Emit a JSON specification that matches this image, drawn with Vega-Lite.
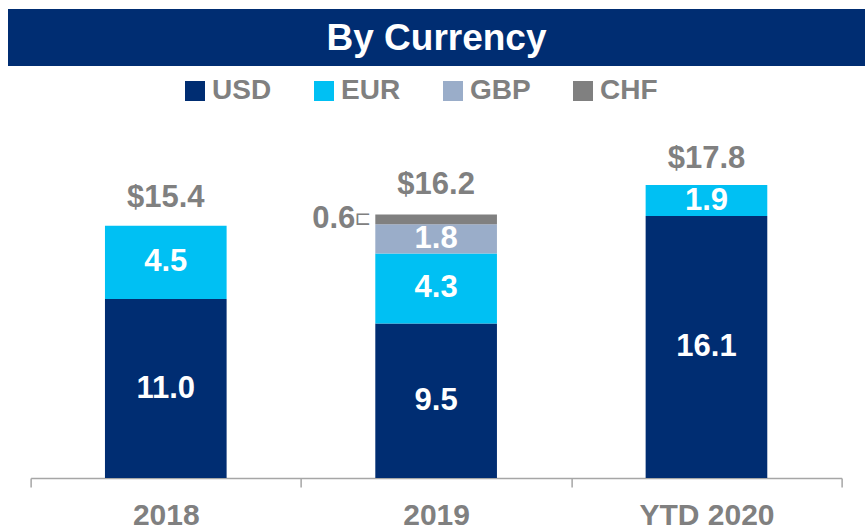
{
  "$schema": "https://vega.github.io/schema/vega-lite/v6.json",
  "padding": {"left": 8, "top": 9, "right": 0, "bottom": 0},
  "config": {"view": {"stroke": null}, "font": "Liberation Sans"},
  "spacing": 14,
  "center": true,
  "vconcat": [
    {
      "width": 857,
      "height": 57,
      "view": {"fill": "#002D72", "stroke": null},
      "data": {"values": [{"title": "By Currency"}]},
      "mark": {"type": "text", "fontSize": 37, "fontWeight": "bold", "color": "#FFFFFF", "baseline": "middle", "align": "center", "dy": 1, "font": "Liberation Sans"},
      "encoding": {"text": {"field": "title", "type": "nominal"}}
    },
    {
      "width": 811,
      "height": 398,
      "data": {
        "values": [
          {"year": "2018", "currency": "USD", "value": 11.0, "order": 1},
          {"year": "2018", "currency": "EUR", "value": 4.5, "order": 2},
          {"year": "2019", "currency": "USD", "value": 9.5, "order": 1},
          {"year": "2019", "currency": "EUR", "value": 4.3, "order": 2},
          {"year": "2019", "currency": "GBP", "value": 1.8, "order": 3},
          {"year": "2019", "currency": "CHF", "value": 0.6, "order": 4},
          {"year": "YTD 2020", "currency": "USD", "value": 16.1, "order": 1},
          {"year": "YTD 2020", "currency": "EUR", "value": 1.9, "order": 2}
        ]
      },
      "encoding": {
        "x": {
          "field": "year",
          "type": "nominal",
          "sort": ["2018", "2019", "YTD 2020"],
          "scale": {"paddingInner": 0, "paddingOuter": 0},
          "axis": {
            "title": null,
            "labelAngle": 0,
            "labelFontSize": 30,
            "labelFontWeight": "bold",
            "labelColor": "#808080",
            "labelFont": "Liberation Sans",
            "labelPadding": 13,
            "domainColor": "#A6A6A6",
            "domainWidth": 1.5,
            "tickColor": "#A6A6A6",
            "tickWidth": 1.5,
            "tickSize": 9,
            "tickBand": "extent"
          }
        }
      },
      "layer": [
        {
          "mark": {"type": "bar", "width": {"band": 0.45}},
          "encoding": {
            "y": {"field": "value", "type": "quantitative", "stack": "zero", "scale": {"domain": [0, 24.46], "nice": false, "zero": true}, "axis": null},
            "color": {
              "field": "currency",
              "type": "nominal",
              "scale": {"domain": ["USD", "EUR", "GBP", "CHF"], "range": ["#002D72", "#00C0F3", "#9AADC9", "#808080"]},
              "legend": {
                "title": null,
                "orient": "none",
                "direction": "horizontal",
                "legendX": 173,
                "legendY": 68,
                "symbolType": "square",
                "symbolSize": 400,
                "symbolStrokeWidth": 0,
                "symbolOpacity": 1,
                "labelFontSize": 28,
                "labelFontWeight": "bold",
                "labelColor": "#808080",
                "labelFont": "Liberation Sans",
                "labelOffset": 3,
                "columnPadding": 38
              }
            },
            "order": {"field": "order", "type": "quantitative"}
          }
        },
        {
          "mark": {"type": "text", "color": "#FFFFFF", "fontSize": 31, "fontWeight": "bold", "baseline": "middle", "font": "Liberation Sans"},
          "encoding": {
            "y": {"field": "value", "type": "quantitative", "stack": "zero", "bandPosition": 0.5, "scale": {"domain": [0, 24.46], "nice": false}},
            "order": {"field": "order", "type": "quantitative"},
            "text": {"condition": {"test": "datum.currency != 'CHF'", "field": "value", "type": "quantitative", "format": ".1f"}, "value": ""}
          }
        },
        {
          "mark": {"type": "text", "color": "#808080", "fontSize": 31, "fontWeight": "bold", "baseline": "middle", "align": "right", "dx": -20, "font": "Liberation Sans"},
          "encoding": {
            "x": {"field": "year", "type": "nominal", "bandPosition": 0.275},
            "y": {"field": "value", "type": "quantitative", "stack": "zero", "bandPosition": 0.5, "scale": {"domain": [0, 24.46], "nice": false}},
            "order": {"field": "order", "type": "quantitative"},
            "text": {"condition": {"test": "datum.currency == 'CHF'", "field": "value", "type": "quantitative", "format": ".1f"}, "value": ""}
          }
        },
        {
          "mark": {"type": "text", "color": "#808080", "fontSize": 20, "baseline": "middle", "align": "right", "dx": -4, "font": "DejaVu Sans"},
          "encoding": {
            "x": {"field": "year", "type": "nominal", "bandPosition": 0.275},
            "y": {"field": "value", "type": "quantitative", "stack": "zero", "bandPosition": 0.5, "scale": {"domain": [0, 24.46], "nice": false}},
            "order": {"field": "order", "type": "quantitative"},
            "text": {"condition": {"test": "datum.currency == 'CHF'", "value": "⊏"}, "value": ""}
          }
        },
        {
          "data": {
            "values": [
              {"year": "2018", "total": 15.4},
              {"year": "2019", "total": 16.2},
              {"year": "YTD 2020", "total": 17.8}
            ]
          },
          "mark": {"type": "text", "color": "#808080", "fontSize": 31, "fontWeight": "bold", "baseline": "alphabetic", "dy": -20, "font": "Liberation Sans"},
          "encoding": {
            "y": {"field": "total", "type": "quantitative", "scale": {"domain": [0, 24.46], "nice": false}},
            "text": {"field": "total", "type": "quantitative", "format": "$.1f"}
          }
        }
      ]
    }
  ]
}
